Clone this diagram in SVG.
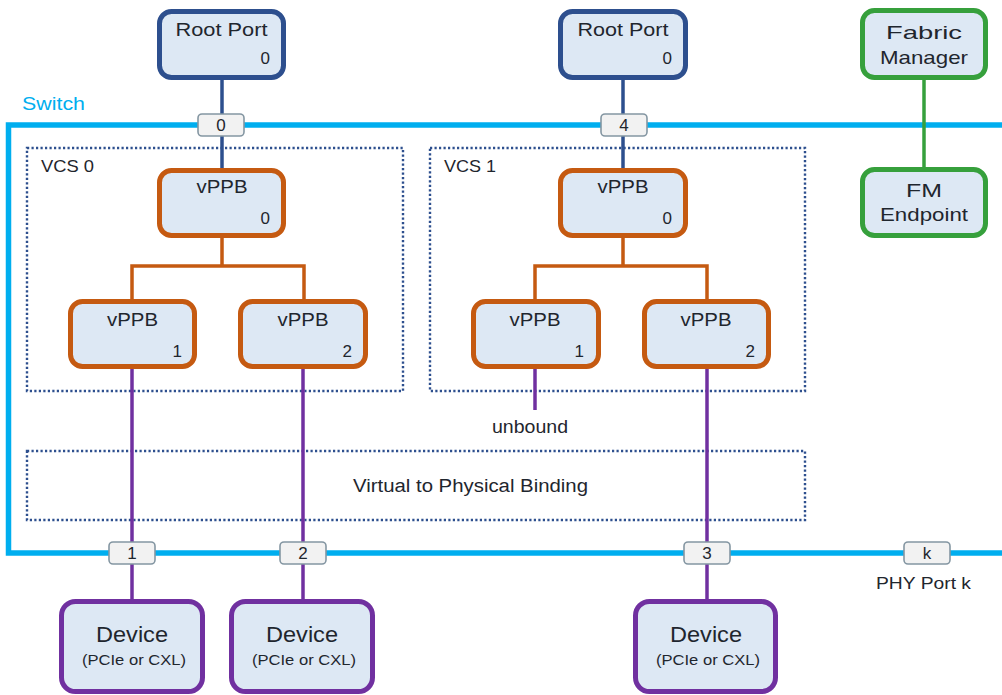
<svg xmlns="http://www.w3.org/2000/svg" width="1002" height="695" viewBox="0 0 1002 695">
  <style>
    text { font-family: "Liberation Sans", Arial, sans-serif; fill: #1f262e; }
    .node { fill: #dde8f4; stroke-width: 5; }
    .root { stroke: #2d4f8e; }
    .vppb { stroke: #c55a11; }
    .fm { stroke: #36a03c; }
    .dev { stroke: #7030a0; }
    .tab { fill: #f2f2f2; stroke: #8496a2; stroke-width: 1.6; }
    .vcs { fill: none; stroke: #2d4f8e; stroke-width: 2.4; stroke-dasharray: 2.2 2.3; }
    .w-blue { stroke: #2d4f8e; stroke-width: 3.5; fill: none; }
    .w-orange { stroke: #c55a11; stroke-width: 3.5; fill: none; }
    .w-purple { stroke: #7030a0; stroke-width: 3.5; fill: none; }
    .w-green { stroke: #36a03c; stroke-width: 3.5; fill: none; }
    .t19 { font-size: 19px; }
    .t17 { font-size: 17px; }
    .num { font-size: 17px; text-anchor: end; }
    .mid { text-anchor: middle; }
  </style>

  <!-- switch outline -->
  <g id="switch">
    <path d="M1002 125 H8.5 V553 H1002" fill="none" stroke="#00aeef" stroke-width="5.5"/>
    <text x="22" y="110" font-size="19" textLength="63" lengthAdjust="spacingAndGlyphs" style="fill:#00aeef">Switch</text>
  </g>

  <!-- virtual hierarchies and binding layer -->
  <g id="vcs0">
    <rect class="vcs" x="27" y="148" width="376" height="243"/>
    <text x="41" y="172" font-size="17" textLength="53" lengthAdjust="spacingAndGlyphs">VCS 0</text>
  </g>
  <g id="vcs1">
    <rect class="vcs" x="430" y="148" width="375" height="243"/>
    <text x="444" y="172" font-size="17" textLength="52" lengthAdjust="spacingAndGlyphs">VCS 1</text>
  </g>
  <g id="binding">
    <rect class="vcs" x="27" y="451" width="778" height="69"/>
    <text x="470.5" y="492" class="mid" font-size="18" textLength="235" lengthAdjust="spacingAndGlyphs">Virtual to Physical Binding</text>
  </g>

  <!-- connectors -->
  <g id="connectors">
    <path class="w-blue" d="M222 80 V168"/>
    <path class="w-blue" d="M623 80 V168"/>
    <path class="w-green" d="M924 80 V168"/>
    <path class="w-orange" d="M222 238 V266 M132 299 V266 H304 V299"/>
    <path class="w-orange" d="M623 238 V266 M535 299 V266 H707 V299"/>
    <path class="w-purple" d="M132 369 V600"/>
    <path class="w-purple" d="M303 369 V600"/>
    <path class="w-purple" d="M707 369 V600"/>
    <path class="w-purple" d="M535 369 V410"/>
  </g>

  <!-- ports on the switch edge -->
  <g id="port-0">
    <rect class="tab" x="198" y="114" width="46" height="22" rx="4"/>
    <text x="221" y="131" class="mid t17">0</text>
  </g>
  <g id="port-4">
    <rect class="tab" x="601" y="114" width="46" height="22" rx="4"/>
    <text x="624" y="131" class="mid t17">4</text>
  </g>
  <g id="port-1">
    <rect class="tab" x="109" y="542" width="46" height="22" rx="4"/>
    <text x="132" y="559" class="mid t17">1</text>
  </g>
  <g id="port-2">
    <rect class="tab" x="280" y="542" width="46" height="22" rx="4"/>
    <text x="303" y="559" class="mid t17">2</text>
  </g>
  <g id="port-3">
    <rect class="tab" x="684" y="542" width="46" height="22" rx="4"/>
    <text x="707" y="559" class="mid t17">3</text>
  </g>
  <g id="port-k">
    <rect class="tab" x="904" y="542" width="46" height="22" rx="4"/>
    <text x="927" y="559" class="mid t17">k</text>
    <text x="923.5" y="589" class="mid" font-size="17" textLength="95" lengthAdjust="spacingAndGlyphs">PHY Port k</text>
  </g>

  <!-- hosts -->
  <g id="root-port-a">
    <rect class="node root" x="159.5" y="11.5" width="124" height="66" rx="12"/>
    <text x="221.5" y="36" class="mid t19" textLength="92" lengthAdjust="spacingAndGlyphs">Root Port</text>
    <text x="270" y="64" class="num">0</text>
  </g>
  <g id="root-port-b">
    <rect class="node root" x="560.5" y="11.5" width="125" height="66" rx="12"/>
    <text x="623" y="36" class="mid t19" textLength="91" lengthAdjust="spacingAndGlyphs">Root Port</text>
    <text x="672" y="64" class="num">0</text>
  </g>

  <!-- fabric manager -->
  <g id="fabric-manager">
    <rect class="node fm" x="862.5" y="10.5" width="123" height="67" rx="12"/>
    <text x="924" y="39" class="mid t19" textLength="76" lengthAdjust="spacingAndGlyphs">Fabric</text>
    <text x="924" y="64" class="mid t19" textLength="88" lengthAdjust="spacingAndGlyphs">Manager</text>
  </g>
  <g id="fm-endpoint">
    <rect class="node fm" x="862.5" y="169.5" width="123" height="66" rx="12"/>
    <text x="924" y="197" class="mid t19" textLength="36" lengthAdjust="spacingAndGlyphs">FM</text>
    <text x="924" y="221" class="mid t19" textLength="88" lengthAdjust="spacingAndGlyphs">Endpoint</text>
  </g>

  <!-- VCS 0 bridges -->
  <g id="vcs0-vppb0">
    <rect class="node vppb" x="159.5" y="170.5" width="124" height="65" rx="12"/>
    <text x="222" y="193" class="mid t19" textLength="51" lengthAdjust="spacingAndGlyphs">vPPB</text>
    <text x="270" y="224" class="num">0</text>
  </g>
  <g id="vcs0-vppb1">
    <rect class="node vppb" x="70.5" y="301.5" width="124" height="65" rx="12"/>
    <text x="132.5" y="326" class="mid t19" textLength="51" lengthAdjust="spacingAndGlyphs">vPPB</text>
    <text x="182" y="357" class="num">1</text>
  </g>
  <g id="vcs0-vppb2">
    <rect class="node vppb" x="240.5" y="301.5" width="125" height="65" rx="12"/>
    <text x="303" y="326" class="mid t19" textLength="51" lengthAdjust="spacingAndGlyphs">vPPB</text>
    <text x="352" y="357" class="num">2</text>
  </g>

  <!-- VCS 1 bridges -->
  <g id="vcs1-vppb0">
    <rect class="node vppb" x="560.5" y="170.5" width="125" height="65" rx="12"/>
    <text x="623" y="193" class="mid t19" textLength="51" lengthAdjust="spacingAndGlyphs">vPPB</text>
    <text x="672" y="224" class="num">0</text>
  </g>
  <g id="vcs1-vppb1">
    <rect class="node vppb" x="473.5" y="301.5" width="125" height="65" rx="12"/>
    <text x="535" y="326" class="mid t19" textLength="51" lengthAdjust="spacingAndGlyphs">vPPB</text>
    <text x="584" y="357" class="num">1</text>
    <text x="530" y="433" class="mid" font-size="18" textLength="76" lengthAdjust="spacingAndGlyphs">unbound</text>
  </g>
  <g id="vcs1-vppb2">
    <rect class="node vppb" x="644.5" y="301.5" width="124" height="65" rx="12"/>
    <text x="706" y="326" class="mid t19" textLength="51" lengthAdjust="spacingAndGlyphs">vPPB</text>
    <text x="755" y="357" class="num">2</text>
  </g>

  <!-- downstream devices -->
  <g id="device-1">
    <rect class="node dev" x="61.5" y="601.5" width="141" height="90" rx="14"/>
    <text x="132" y="642" class="mid" font-size="22" textLength="72" lengthAdjust="spacingAndGlyphs">Device</text>
    <text x="134" y="665" class="mid" font-size="15" textLength="104" lengthAdjust="spacingAndGlyphs">(PCIe or CXL)</text>
  </g>
  <g id="device-2">
    <rect class="node dev" x="231.5" y="601.5" width="141" height="90" rx="14"/>
    <text x="302" y="642" class="mid" font-size="22" textLength="72" lengthAdjust="spacingAndGlyphs">Device</text>
    <text x="304" y="665" class="mid" font-size="15" textLength="104" lengthAdjust="spacingAndGlyphs">(PCIe or CXL)</text>
  </g>
  <g id="device-3">
    <rect class="node dev" x="635.5" y="601.5" width="140" height="90" rx="14"/>
    <text x="706" y="642" class="mid" font-size="22" textLength="72" lengthAdjust="spacingAndGlyphs">Device</text>
    <text x="708" y="665" class="mid" font-size="15" textLength="104" lengthAdjust="spacingAndGlyphs">(PCIe or CXL)</text>
  </g>
</svg>
